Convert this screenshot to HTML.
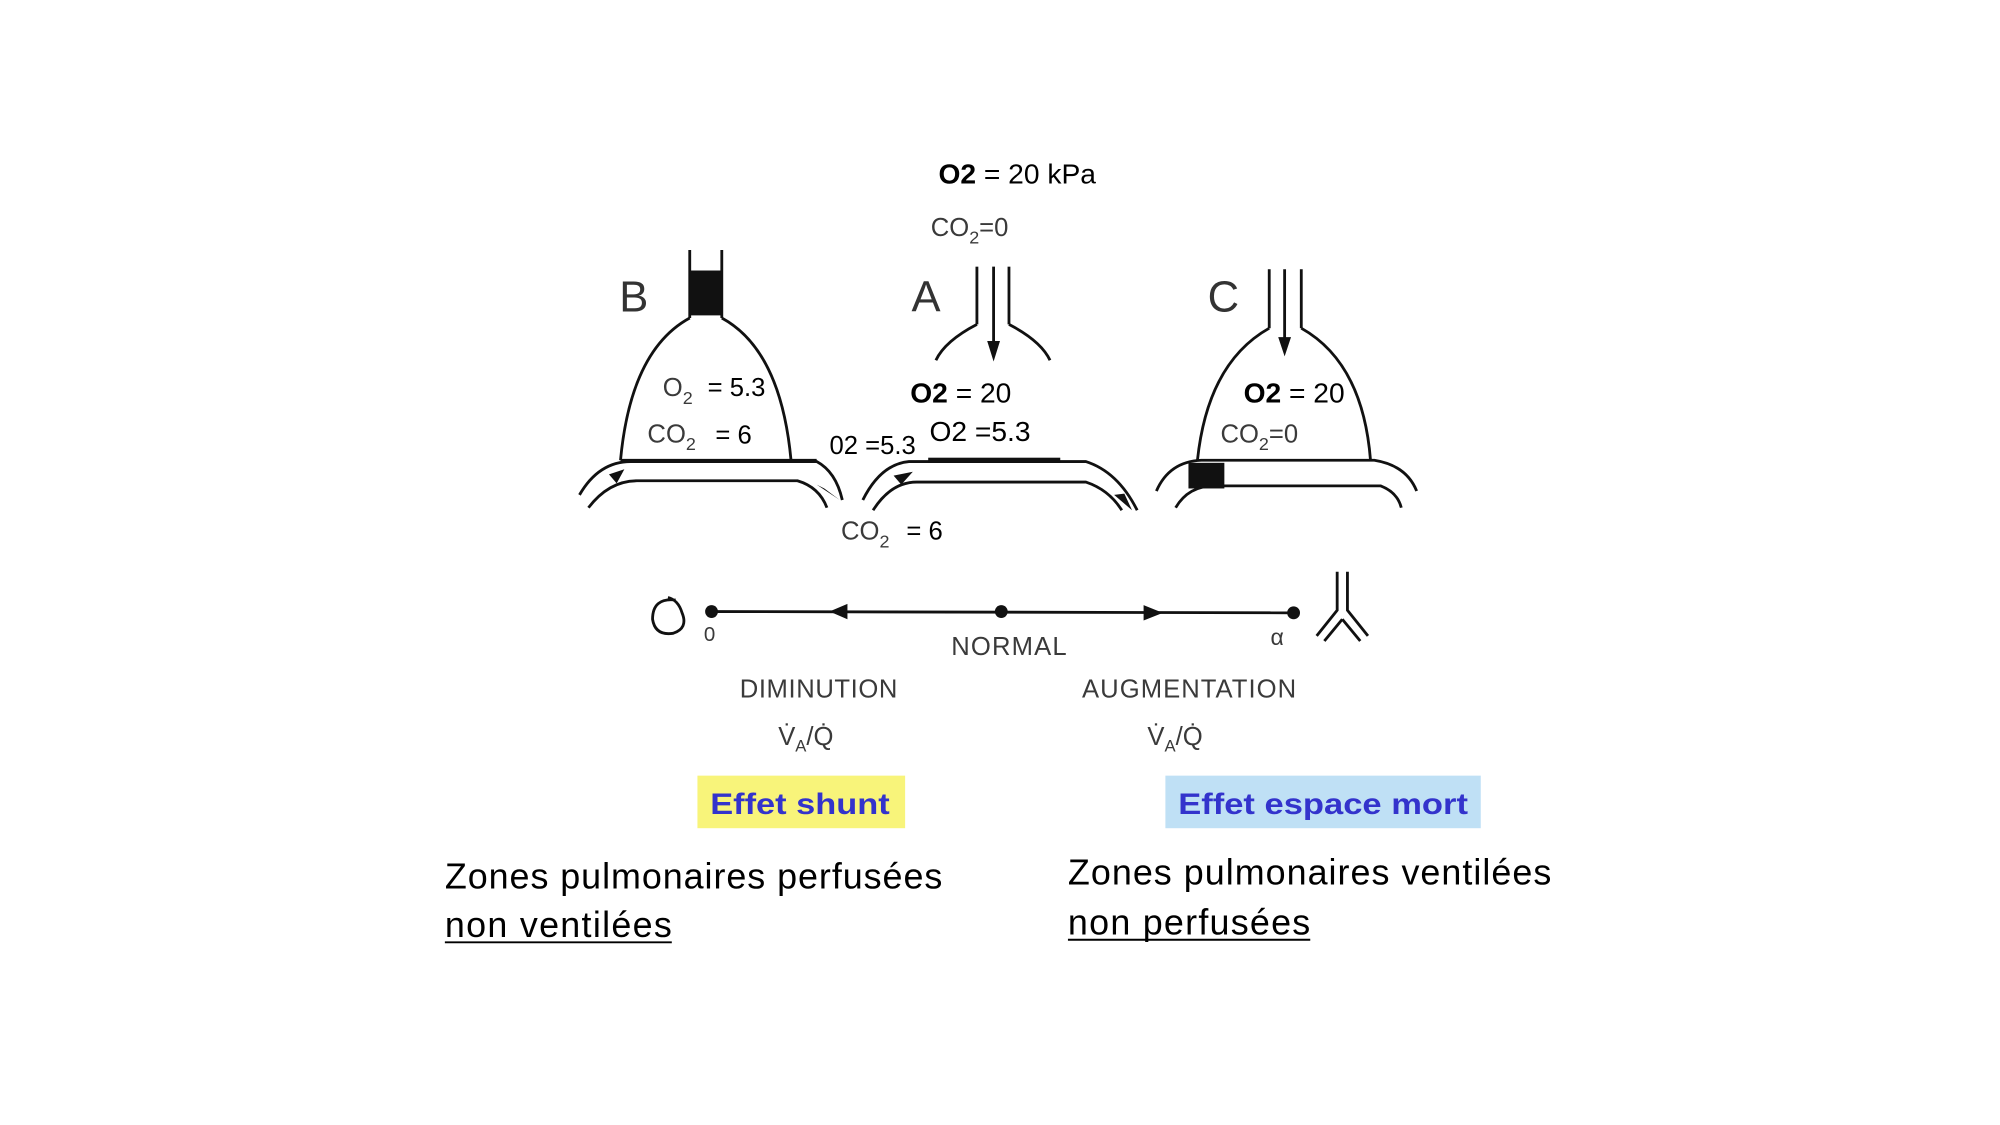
<!DOCTYPE html>
<html><head><meta charset="utf-8"><style>html,body{margin:0;padding:0;background:#fff}svg{display:block}</style></head>
<body>
<svg width="2000" height="1125" viewBox="0 0 1560 877.5" xmlns="http://www.w3.org/2000/svg" font-family="Liberation Sans, sans-serif">
<g transform="translate(-3,-2)">
<g fill="none" stroke="#111" stroke-width="2.2">
 <line x1="541" y1="197" x2="541" y2="250"/><line x1="566" y1="197" x2="566" y2="250"/>
 <path d="M541 250 Q495 275 487 361"/><path d="M566 250 Q612 275 620 361"/>
 <line x1="487" y1="361" x2="640" y2="361"/>
 <path d="M455 388 Q470 362 495 362 L640 362 Q655 370 660 392"/>
 <path d="M462 398 Q478 377 500 377 L625 377 Q642 382 648 398"/>
 <line x1="765" y1="210" x2="765" y2="255"/><line x1="790" y1="210" x2="790" y2="255"/><line x1="778" y1="210" x2="778" y2="275"/>
 <path d="M765 255 Q740 268 733 283"/><path d="M790 255 Q815 268 822 283"/>
 <path d="M676 392 Q690 364 712 362 L850 362 Q875 370 890 400"/>
 <path d="M684 400 Q698 378 718 378 L850 378 Q868 384 878 400"/>
 <line x1="993" y1="212" x2="993" y2="258"/><line x1="1018" y1="212" x2="1018" y2="258"/><line x1="1005" y1="212" x2="1005" y2="272"/>
 <path d="M993 258 Q945 285 937 361"/><path d="M1018 258 Q1066 285 1072 361"/>
 <path d="M905 385 Q915 362 940 361 L1075 361 Q1100 365 1108 385"/>
 <path d="M920 398 Q930 381 950 381 L1080 381 Q1093 386 1096 398"/>
 <line x1="558" y1="479" x2="1012" y2="480"/>
 <path d="M530 470 Q512 468 512 485 Q514 498 528 496 Q540 492 535 480 Q532 470 524 468"/>
 <path d="M1046 448 L1046 478 L1030 498 M1054 448 L1054 478 L1070 498 M1050 485 L1036 502 M1050 485 L1064 502"/>
</g>
<g fill="#111">
 <rect x="541" y="213" width="25" height="35"/>
 <rect x="727" y="359" width="103" height="4"/>
 <rect x="930" y="363" width="28" height="20"/>
 <path d="M773 268 L778 284 L783 268Z"/><path d="M1000 265 L1005 280 L1010 265Z"/>
 <path d="M478 372 L490 368 L484 379Z"/><path d="M640 380 L658 392 L646 383Z"/>
 <path d="M700 373 L715 370 L706 380Z"/><path d="M872 388 L886 400 L880 387Z"/>
 <circle cx="558" cy="479" r="5"/><circle cx="784" cy="479" r="5"/><circle cx="1012" cy="480" r="5"/>
 <path d="M650 479 L664 473 L664 485Z"/><path d="M910 480 L895 474 L895 486Z"/>
</g>
<g fill="#333" font-size="34"><text x="486" y="245">B</text><text x="714" y="245">A</text><text x="945" y="245">C</text></g>
<g fill="#3a3a3a" font-size="20">
 <text x="729" y="186">CO<tspan font-size="14" dy="6">2</tspan><tspan dy="-6">=0</tspan></text>
 <text x="520" y="311">O<tspan font-size="14" dy="6">2</tspan></text>
 <text x="508" y="347">CO<tspan font-size="14" dy="6">2</tspan></text>
 <text x="955" y="347">CO<tspan font-size="14" dy="6">2</tspan><tspan dy="-6">=0</tspan></text>
 <text x="659" y="423">CO<tspan font-size="14" dy="6">2</tspan></text>
 <text x="552" y="502" font-size="16">0</text>
 <text x="745" y="513" textLength="90">NORMAL</text>
 <text x="994" y="505" font-size="18">α</text>
 <text x="580" y="546" textLength="123">DIMINUTION</text>
 <text x="847" y="546" textLength="167">AUGMENTATION</text>
 <text x="610" y="583">V̇<tspan font-size="13" dy="5">A</tspan><tspan dy="-5">/Q̇</tspan></text>
 <text x="898" y="583">V̇<tspan font-size="13" dy="5">A</tspan><tspan dy="-5">/Q̇</tspan></text>
</g>
<g fill="#000" font-size="20">
 <text x="555" y="311">= 5.3</text>
 <text x="561" y="348">= 6</text>
 <text x="650" y="356">02 =5.3</text>
 <text x="710" y="423">= 6</text>
 <text x="735" y="145" font-size="22"><tspan font-weight="bold">O2</tspan> = 20 kPa</text>
 <text x="713" y="316" font-size="22"><tspan font-weight="bold">O2</tspan> = 20</text>
 <text x="728" y="346" font-size="22">O2 =5.3</text>
 <text x="973" y="316" font-size="22"><tspan font-weight="bold">O2</tspan> = 20</text>
</g>
<rect x="547" y="607" width="162" height="41" fill="#f8f47a"/>
<rect x="912" y="607" width="246" height="41" fill="#bfe0f5"/>
<g fill="#3333cc" font-size="23" font-weight="bold">
 <text x="557" y="637" textLength="140" lengthAdjust="spacingAndGlyphs">Effet shunt</text>
 <text x="922" y="637" textLength="226" lengthAdjust="spacingAndGlyphs">Effet espace mort</text>
</g>
<g fill="#000" font-size="28">
 <text x="350" y="695" textLength="388">Zones pulmonaires perfusées</text>
 <text x="350" y="733" textLength="177">non ventilées</text>
 <text x="836" y="692" textLength="377">Zones pulmonaires ventilées</text>
 <text x="836" y="731" textLength="189">non perfusées</text>
</g>
<line x1="350" y1="737" x2="527" y2="737" stroke="#000" stroke-width="1.5"/>
<line x1="836" y1="735" x2="1025" y2="735" stroke="#000" stroke-width="1.5"/>
</g>
</svg>
</body></html>
